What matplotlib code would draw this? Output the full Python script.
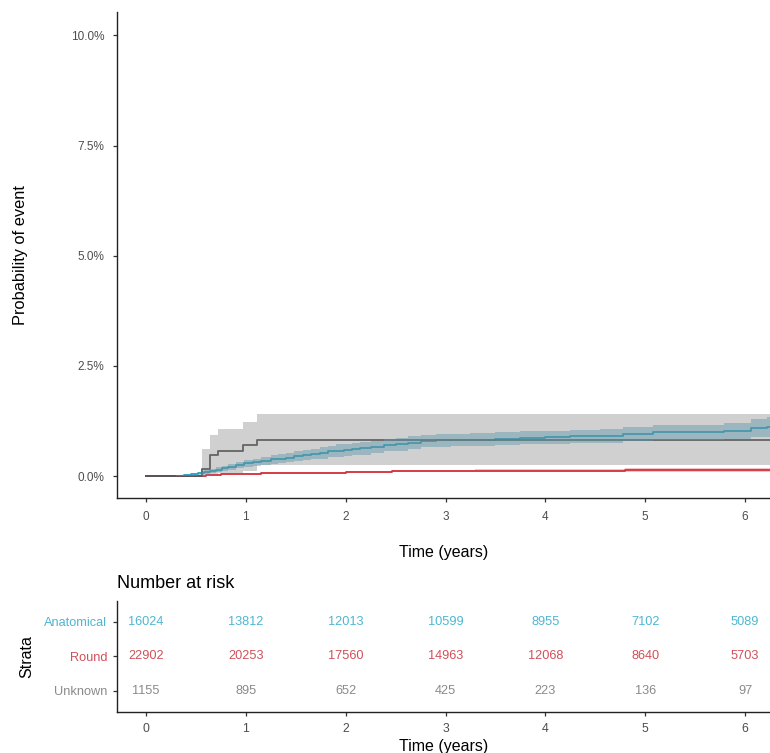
import matplotlib
matplotlib.use("Agg")
from matplotlib import pyplot as plt
from matplotlib.ticker import FuncFormatter

plt.rcParams['font.family'] = ['Liberation Sans', 'DejaVu Sans']

# 分组与颜色
groups = ["Anatomical", "Round", "Unknown"]
colors = {"Anatomical": "#14A0C4", "Round": "#D12F3E", "Unknown": "#555555"}
band_colors = {"Anatomical": "#45A8C4", "Round": "#D23A45", "Unknown": "#808080"}
band_alpha = {"Anatomical": 0.45, "Round": 0.3, "Unknown": 0.37}
text_colors = {"Anatomical": "#4DB6D1", "Round": "#D0505A", "Unknown": "#8A8A8A"}

# Anatomical 累积发生率(%)
t_ana = [0, 0.30, 0.38, 0.45, 0.52, 0.58, 0.64, 0.70, 0.76, 0.82, 0.90, 0.98, 1.07, 1.15,
         1.25, 1.32, 1.40, 1.48, 1.57, 1.65, 1.74, 1.82, 1.90, 1.98, 2.06, 2.14, 2.25,
         2.38, 2.50, 2.62, 2.75, 2.90, 3.05, 3.25, 3.50, 3.75, 4.00, 4.25, 4.55, 4.78,
         5.08, 5.79, 6.06, 6.22, 6.30]
y_ana = [0, 0.01, 0.02, 0.04, 0.06, 0.09, 0.12, 0.15, 0.18, 0.21, 0.25, 0.29, 0.32, 0.35,
         0.38, 0.40, 0.42, 0.45, 0.48, 0.50, 0.53, 0.56, 0.58, 0.60, 0.61, 0.63, 0.66,
         0.70, 0.72, 0.76, 0.80, 0.81, 0.82, 0.83, 0.85, 0.87, 0.88, 0.90, 0.91, 0.95,
         0.99, 1.02, 1.09, 1.11, 1.11]
lo_ana = [0, 0.0, 0.0, 0.01, 0.02, 0.04, 0.07, 0.09, 0.12, 0.14, 0.18, 0.21, 0.24, 0.26,
          0.28, 0.30, 0.31, 0.34, 0.36, 0.38, 0.40, 0.43, 0.44, 0.46, 0.47, 0.49, 0.52,
          0.56, 0.58, 0.62, 0.66, 0.67, 0.68, 0.69, 0.70, 0.72, 0.73, 0.75, 0.75, 0.79,
          0.82, 0.84, 0.88, 0.88, 0.88]
hi_ana = [0, 0.02, 0.04, 0.07, 0.10, 0.14, 0.17, 0.21, 0.24, 0.28, 0.32, 0.37, 0.40, 0.44,
          0.48, 0.50, 0.53, 0.56, 0.60, 0.62, 0.66, 0.69, 0.72, 0.74, 0.75, 0.77, 0.80,
          0.84, 0.86, 0.90, 0.94, 0.95, 0.96, 0.97, 1.00, 1.02, 1.03, 1.05, 1.07, 1.11,
          1.16, 1.20, 1.30, 1.34, 1.34]

# Round
t_rnd = [0, 0.47, 0.60, 0.75, 0.90, 1.15, 1.50, 2.00, 2.46, 2.85, 3.30, 4.80, 6.30]
y_rnd = [0, 0.01, 0.03, 0.045, 0.055, 0.07, 0.08, 0.095, 0.115, 0.12, 0.125, 0.13, 0.13]
lo_rnd = [0, 0.0, 0.02, 0.03, 0.04, 0.05, 0.06, 0.075, 0.09, 0.095, 0.095, 0.095, 0.095]
hi_rnd = [0, 0.02, 0.04, 0.06, 0.07, 0.09, 0.10, 0.115, 0.14, 0.145, 0.155, 0.175, 0.175]

# Unknown
t_unk = [0, 0.56, 0.64, 0.72, 0.97, 1.11, 6.30]
y_unk = [0, 0.16, 0.49, 0.57, 0.70, 0.82, 0.82]
lo_unk = [0, 0.0, 0.04, 0.07, 0.12, 0.25, 0.25]
hi_unk = [0, 0.62, 0.93, 1.06, 1.23, 1.41, 1.41]

curves = {
    "Anatomical": (t_ana, y_ana, lo_ana, hi_ana),
    "Round": (t_rnd, y_rnd, lo_rnd, hi_rnd),
    "Unknown": (t_unk, y_unk, lo_unk, hi_unk),
}

# 风险人数表
times_risk = [0, 1, 2, 3, 4, 5, 6]
risk_ana = [16024, 13812, 12013, 10599, 8955, 7102, 5089]
risk_rnd = [22902, 20253, 17560, 14963, 12068, 8640, 5703]
risk_unk = [1155, 895, 652, 425, 223, 136, 97]
risk = {"Anatomical": risk_ana, "Round": risk_rnd, "Unknown": risk_unk}

fig = plt.figure(figsize=(7.7, 7.53), dpi=100)
ax = fig.add_axes([0.152, 0.338, 0.848, 0.6455])
ax2 = fig.add_axes([0.152, 0.0544, 0.848, 0.1475])

# 先画线，再画置信带（带子盖在线上）
for g in groups:
    t, y, lo, hi = curves[g]
    ax.step(t, [v / 100 for v in y], where="post", color=colors[g], lw=1.3, zorder=2)
for g in groups:
    t, y, lo, hi = curves[g]
    ax.fill_between(t, [v / 100 for v in lo], [v / 100 for v in hi], step="post",
                    color=band_colors[g], alpha=band_alpha[g], lw=0, zorder=3)

ax.set_xlim(-0.29, 6.25)
ax.set_ylim(-0.00507, 0.1052)
ax.set_yticks([0, 0.025, 0.05, 0.075, 0.1])
ax.yaxis.set_major_formatter(FuncFormatter(lambda v, p: "{:.1f}%".format(v * 100)))
ax.set_xticks(times_risk)
ax.set_ylabel("Probability of event", fontsize=11.8)
ax.yaxis.set_label_coords(-0.137, 0.5)
ax.set_xlabel("Time (years)", fontsize=11.5, labelpad=16)

for a in (ax, ax2):
    for s in ("top", "right"):
        a.spines[s].set_visible(False)
    for s in ("left", "bottom"):
        a.spines[s].set_linewidth(1.0)
        a.spines[s].set_color("#222222")
    a.tick_params(direction="out", length=3, width=0.9, color="#333333",
                  labelsize=8.5, labelcolor="#4D4D4D", pad=4)
ax.tick_params(axis="y", pad=6)
ax.tick_params(axis="x", pad=6)

# 风险表
ypos = {"Anatomical": 3, "Round": 2, "Unknown": 1}
for g in groups:
    for x, n in zip(times_risk, risk[g]):
        ax2.text(x, ypos[g], str(n), ha="center", va="center", fontsize=9.2, color=text_colors[g])
ax2.set_xlim(-0.29, 6.25)
ax2.set_ylim(0.38, 3.6)
ax2.set_xticks(times_risk)
ax2.tick_params(axis="x", labelsize=8.8, pad=5)
ax2.set_yticks([ypos[g] for g in groups])
ax2.set_yticklabels(groups)
for lab, g in zip(ax2.get_yticklabels(), groups):
    lab.set_color(text_colors[g])
    lab.set_fontsize(9.2)
ax2.set_ylabel("Strata", fontsize=11.5)
ax2.yaxis.set_label_coords(-0.127, 0.5)
ax2.set_xlabel("Time (years)", fontsize=11.5, labelpad=3)
ax2.set_title("Number at risk", loc="left", fontsize=13, pad=9)

plt.savefig("out.png", dpi=100)
